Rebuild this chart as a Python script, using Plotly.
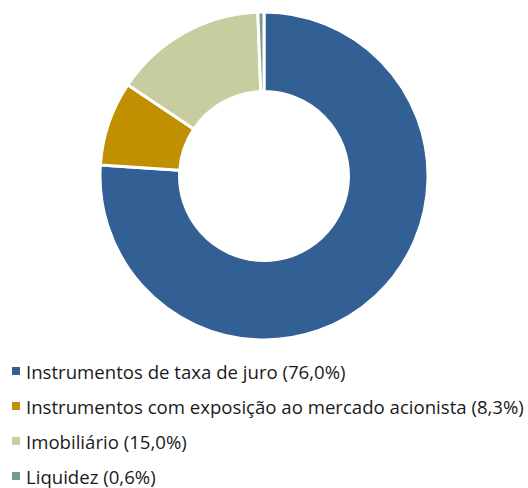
import plotly.graph_objects as go

# Portfolio allocation by asset class
labels = [
    "Instrumentos de taxa de juro",
    "Instrumentos com exposição ao mercado acionista",
    "Imobiliário",
    "Liquidez",
]
values = [76.0, 8.3, 15.0, 0.6]
colors = ["#336094", "#C09000", "#C8CDA0", "#7A9A88"]

W, H = 528, 488

fig = go.Figure()
fig.add_trace(go.Pie(
    labels=labels,
    values=values,
    hole=0.515,
    sort=False,
    direction="clockwise",
    rotation=0,
    marker=dict(colors=colors, line=dict(color="white", width=3)),
    textinfo="none",
    hoverinfo="label+percent",
    showlegend=False,
    domain=dict(x=[100 / W, 428 / W], y=[1 - 340 / H, 1 - 12 / H]),
))

# Legend rows: square swatch + label with its share
row_y = [371, 406, 441, 476]
for lab, val, col, yy in zip(labels, values, colors, row_y):
    fig.add_shape(
        type="rect", xref="paper", yref="paper",
        x0=12 / W, x1=20 / W, y0=1 - (yy + 4) / H, y1=1 - (yy - 4) / H,
        fillcolor=col, line=dict(width=0),
    )
    txt = f"{lab} ({val:.1f}%)".replace(".", ",")
    fig.add_annotation(
        x=24 / W, y=1 - yy / H, xref="paper", yref="paper",
        xanchor="left", yanchor="middle", showarrow=False,
        text=txt, font=dict(family="Open Sans", size=18.6, color="#1a1a1a"),
    )

fig.update_layout(
    width=W, height=H,
    margin=dict(l=0, r=0, t=0, b=0),
    paper_bgcolor="white",
    plot_bgcolor="white",
)

fig.write_html("out.html")
